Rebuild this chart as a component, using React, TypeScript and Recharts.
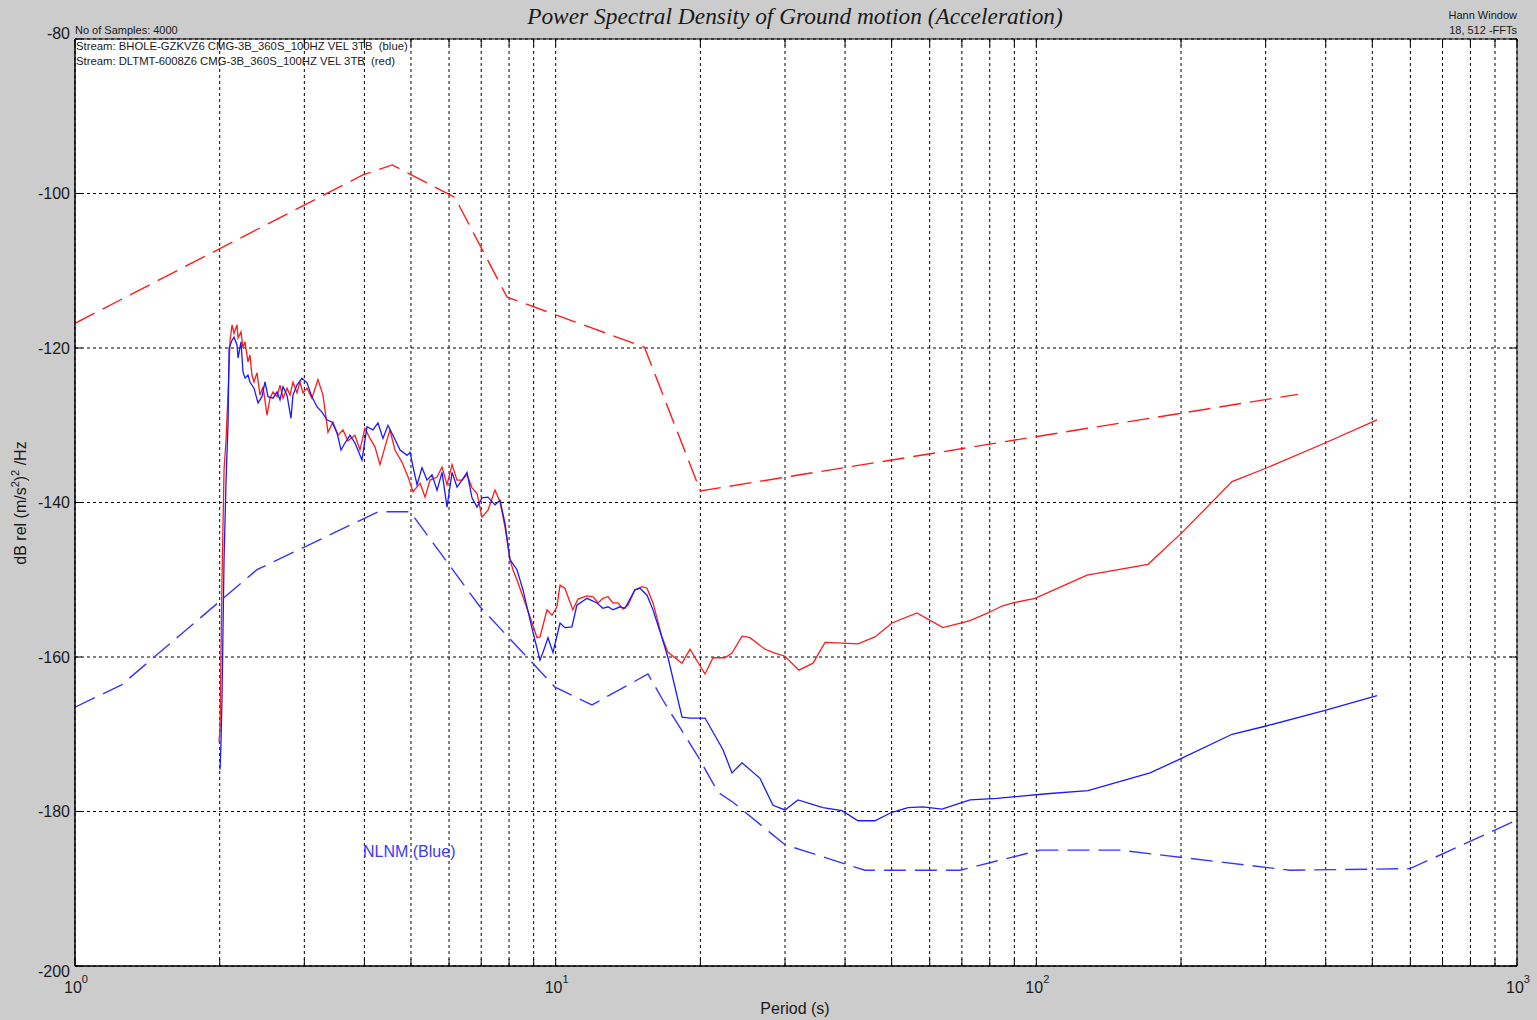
import React from 'react';
import { LineChart, Line, XAxis, YAxis, CartesianGrid, ReferenceArea } from 'recharts';

// ---- data (period in s, PSD in dB) ----
const nhnm: [number, number][] = [
  [1, -116.8], [3.97, -97.6], [4.57, -96.3], [6.17, -100.5], [7.92, -113.4],
  [15.3, -119.9], [20.0, -138.5], [350, -126.0],
];

const nlnm: [number, number][] = [
  [1, -166.5], [1.25, -163.6], [2.39, -148.7], [4.27, -141.2], [4.98, -141.2],
  [6.96, -153.5], [9.97, -163.9], [11.9, -166.2], [15.56, -162.2], [16.72, -165.6],
  [19.78, -172.9], [21.76, -177.5], [23.38, -178.8], [30.0, -184.3], [44, -187.6],
  [69.4, -187.6], [101.8, -185.0], [149, -185.0], [337, -187.6], [599, -187.4], [1000, -181.1],
];

const redStream: [number, number][] = [
  [1.993, -171.0], [2.003, -169.4], [2.022, -150.0], [2.042, -135.8], [2.062, -131.9],
  [2.082, -125.7], [2.102, -119.0], [2.122, -117.0], [2.142, -118.1], [2.173, -117.0],
  [2.184, -118.7], [2.215, -117.9], [2.236, -120.0], [2.258, -119.2], [2.29, -121.8],
  [2.312, -120.9], [2.334, -123.5], [2.357, -124.4], [2.391, -123.2], [2.426, -126.1],
  [2.461, -125.0], [2.509, -128.7], [2.545, -126.5], [2.582, -125.7], [2.632, -126.3],
  [2.67, -124.8], [2.709, -126.5], [2.761, -125.2], [2.801, -126.1], [2.841, -124.4],
  [2.896, -125.8], [2.938, -124.4], [2.98, -125.8], [3.038, -125.2], [3.111, -126.5],
  [3.202, -124.1], [3.28, -126.1], [3.36, -130.9], [3.441, -129.6], [3.525, -131.3],
  [3.61, -130.6], [3.698, -132.0], [3.824, -131.3], [3.916, -133.2], [4.011, -130.4],
  [4.109, -131.7], [4.208, -132.8], [4.31, -135.1], [4.414, -132.8], [4.521, -130.6],
  [4.63, -133.2], [4.791, -134.8], [4.931, -136.7], [5.05, -138.6], [5.222, -137.5],
  [5.349, -139.3], [5.478, -137.1], [5.665, -136.7], [5.802, -135.4], [5.943, -137.7],
  [6.087, -135.1], [6.234, -137.1], [6.385, -137.1], [6.54, -136.4], [6.698, -138.1],
  [6.86, -138.8], [7.026, -141.9], [7.231, -141.0], [7.478, -138.4], [7.659, -139.9],
  [7.845, -143.2], [8.035, -147.4], [8.151, -148.7], [8.349, -150.4], [8.843, -154.8],
  [9.145, -157.5], [9.277, -157.4], [9.593, -153.9], [9.825, -154.6], [10.06, -153.5],
  [10.21, -150.7], [10.45, -151.1], [10.86, -153.9], [11.13, -152.5], [11.62, -152.1],
  [11.96, -152.2], [12.25, -153.0], [12.54, -152.4], [12.85, -152.2], [13.16, -153.0],
  [13.48, -153.0], [13.81, -153.8], [14.14, -153.3], [14.62, -151.3], [15.12, -150.9],
  [15.49, -151.1], [15.94, -153.0], [16.64, -157.4], [17.13, -159.4], [18.32, -160.8],
  [19.03, -159.0], [20.45, -162.2], [21.25, -160.1], [22.5, -160.1], [23.27, -159.5],
  [24.42, -157.3], [25.37, -157.5], [27.26, -159.0], [28.59, -159.5], [30.0, -159.9],
  [32.07, -161.7], [34.31, -160.8], [36.34, -158.1], [39.6, -158.2], [42.56, -158.3],
  [46.15, -157.4], [50.08, -155.6], [56.45, -154.3], [63.93, -156.2], [72.78, -155.3],
  [79.32, -154.3], [84.81, -153.4], [89.4, -153.0], [99.35, -152.4], [127.5, -149.4],
  [170.8, -148.0], [200.9, -143.9], [255.4, -137.3], [302, -135.5], [398.6, -132.3],
  [511.5, -129.3],
];

const blueStream: [number, number][] = [
  [2.003, -174.6], [2.012, -171.4], [2.022, -165.6], [2.042, -147.4], [2.062, -137.1],
  [2.082, -129.6], [2.092, -120.0], [2.122, -119.0], [2.142, -118.6], [2.173, -119.6],
  [2.184, -121.3], [2.215, -119.2], [2.236, -123.1], [2.258, -123.9], [2.29, -123.5],
  [2.312, -124.4], [2.357, -125.2], [2.403, -127.1], [2.449, -126.3], [2.485, -124.4],
  [2.521, -126.3], [2.582, -126.5], [2.632, -125.7], [2.67, -126.7], [2.709, -125.0],
  [2.761, -126.1], [2.814, -129.1], [2.841, -126.1], [2.896, -124.8], [2.966, -123.9],
  [3.038, -124.5], [3.111, -126.3], [3.187, -127.6], [3.264, -128.3], [3.343, -129.3],
  [3.425, -129.6], [3.509, -131.0], [3.576, -133.2], [3.645, -132.3], [3.733, -131.3],
  [3.824, -132.3], [3.954, -134.5], [4.05, -130.2], [4.168, -130.6], [4.269, -129.7],
  [4.372, -131.7], [4.478, -130.0], [4.586, -131.3], [4.746, -133.2], [4.907, -133.9],
  [4.978, -133.5], [5.05, -135.4], [5.147, -137.7], [5.272, -135.5], [5.4, -137.1],
  [5.531, -136.4], [5.665, -138.4], [5.802, -136.1], [5.943, -140.6], [6.087, -136.1],
  [6.234, -138.0], [6.385, -137.1], [6.54, -136.1], [6.698, -139.4], [6.86, -140.6],
  [7.026, -139.4], [7.231, -139.3], [7.478, -140.3], [7.659, -139.7], [7.845, -142.7],
  [8.035, -147.4], [8.308, -148.7], [8.551, -151.3], [8.971, -156.8], [9.277, -160.4],
  [9.411, -159.4], [9.639, -157.5], [9.872, -159.4], [10.21, -155.6], [10.45, -156.2],
  [10.81, -156.1], [11.07, -153.3], [11.62, -152.4], [12.19, -153.0], [12.54, -153.7],
  [12.85, -153.5], [13.16, -153.9], [13.61, -153.5], [13.94, -153.7], [14.62, -151.3],
  [14.98, -151.1], [15.49, -152.0], [15.94, -153.9], [16.64, -157.5], [17.13, -160.1],
  [18.32, -167.8], [19.03, -167.9], [20.45, -167.9], [22.29, -172.0], [23.27, -175.0],
  [24.42, -173.7], [26.61, -175.7], [28.32, -179.2], [30.0, -179.8], [31.92, -178.5],
  [35.99, -179.5], [39.41, -179.9], [42.56, -181.2], [46.15, -181.2], [50.08, -180.1],
  [54.08, -179.5], [58.09, -179.4], [63.63, -179.7], [72.78, -178.5], [82.81, -178.3],
  [105.2, -177.7], [128.1, -177.3], [172.4, -175.0], [200.9, -173.1], [255.4, -170.0],
  [302, -168.9], [398.6, -166.9], [511.5, -165.0],
];

const xTicks = [
  1, 2, 3, 4, 5, 6, 7, 8, 9,
  10, 20, 30, 40, 50, 60, 70, 80, 90,
  100, 200, 300, 400, 500, 600, 700, 800, 900, 1000,
];
const xDecadeLabels: Record<number, string> = { 1: '0', 10: '1', 100: '2', 1000: '3' };
const yTicks = [-200, -180, -160, -140, -120, -100, -80];

const toRows = (pairs: [number, number][]) => pairs.map(([p, db]) => ({ p, db }));

const W = 1537;
const H = 1020;
const M = { top: 39, right: 20, left: 0, bottom: 0 };
const Y_AXIS_W = 75;
const X_AXIS_H = 54;
const PLOT_W = W - M.right - Y_AXIS_W;
const PLOT_H = H - M.top - X_AXIS_H;
const FONT = '"Liberation Sans", Arial, sans-serif';
const TXT = '#1a1a1a';

const XTick = (props: any) => {
  const { x, y, payload } = props;
  const v = payload.value;
  const label = xDecadeLabels[v];
  const tl = 7;
  return (
    <g>
      <line x1={x} x2={x} y1={y} y2={y - tl} stroke="#000" strokeWidth={1} />
      <line x1={x} x2={x} y1={y - PLOT_H} y2={y - PLOT_H + tl} stroke="#000" strokeWidth={1} />
      {label !== undefined && (
        <text x={x + 1} y={y + 27} textAnchor="middle" fontFamily={FONT} fontSize={16} fill={TXT}>
          10<tspan dy={-10} fontSize={11}>{label}</tspan>
        </text>
      )}
    </g>
  );
};

const YTick = (props: any) => {
  const { x, y, payload } = props;
  const v = payload.value;
  const tl = 7;
  const shift = v === -80 ? -6 : v === -200 ? 5 : 0;
  return (
    <g>
      <line x1={x} x2={x + tl} y1={y} y2={y} stroke="#000" strokeWidth={1} />
      <line x1={x + PLOT_W} x2={x + PLOT_W - tl} y1={y} y2={y} stroke="#000" strokeWidth={1} />
      <text x={x - 5} y={y + shift} dy="0.36em" textAnchor="end" fontFamily={FONT} fontSize={16} fill={TXT}>
        {v}
      </text>
    </g>
  );
};

export default function App() {
  return (
    <div style={{ position: 'absolute', left: 0, top: 0, width: W, height: H, background: '#cccccc' }}>
      <LineChart width={W} height={H} margin={M}>
        <CartesianGrid stroke="#000" strokeDasharray="3 3" fill="#ffffff" strokeWidth={1} />
        <XAxis
          type="number"
          dataKey="p"
          scale="log"
          domain={[1, 1000]}
          ticks={xTicks}
          interval={0}
          height={X_AXIS_H}
          tickSize={0}
          tickMargin={0}
          tickLine={false}
          axisLine={{ stroke: '#000' }}
          tick={<XTick />}
          allowDataOverflow
        />
        <YAxis
          type="number"
          domain={[-200, -80]}
          ticks={yTicks}
          interval={0}
          width={Y_AXIS_W}
          tickSize={0}
          tickMargin={0}
          tickLine={false}
          axisLine={{ stroke: '#000' }}
          tick={<YTick />}
          allowDataOverflow
        />
        <ReferenceArea x1={1} x2={1000} y1={-200} y2={-80} fill="none" stroke="#000" strokeWidth={1} fillOpacity={0} />
        <Line data={toRows(nhnm)} dataKey="db" type="linear" stroke="#ff1a1a" strokeWidth={1.4}
          strokeDasharray="22 9" dot={false} isAnimationActive={false} />
        <Line data={toRows(nlnm)} dataKey="db" type="linear" stroke="#3535ff" strokeWidth={1.4}
          strokeDasharray="22 9" dot={false} isAnimationActive={false} />
        <Line data={toRows(redStream)} dataKey="db" type="linear" stroke="#ff1a1a" strokeWidth={1.3}
          dot={false} isAnimationActive={false} />
        <Line data={toRows(blueStream)} dataKey="db" type="linear" stroke="#1a1aff" strokeWidth={1.3}
          dot={false} isAnimationActive={false} />
      </LineChart>
      <svg width={W} height={H} style={{ position: 'absolute', left: 0, top: 0, pointerEvents: 'none' }}>
        <text x={795} y={24} textAnchor="middle" fontFamily='"Liberation Serif", "Times New Roman", serif'
          fontStyle="italic" fontSize={23.4} fill={TXT}>
          Power Spectral Density of Ground motion (Acceleration)
        </text>
        <text x={75} y={34} fontFamily={FONT} fontSize={11} fill={TXT}>No of Samples: 4000</text>
        <text x={76} y={50} fontFamily={FONT} fontSize={11.3} fill={TXT} style={{ whiteSpace: 'pre' }}>
          {'Stream: BHOLE-GZKVZ6 CMG-3B_360S_100HZ VEL 3TB  (blue)'}
        </text>
        <text x={76} y={65} fontFamily={FONT} fontSize={11.3} fill={TXT} style={{ whiteSpace: 'pre' }}>
          {'Stream: DLTMT-6008Z6 CMG-3B_360S_100HZ VEL 3TB  (red)'}
        </text>
        <text x={1517} y={19} textAnchor="end" fontFamily={FONT} fontSize={11} fill={TXT}>Hann Window</text>
        <text x={1517} y={34} textAnchor="end" fontFamily={FONT} fontSize={11} fill={TXT}>18, 512 -FFTs</text>
        <text x={363} y={857} fontFamily={FONT} fontSize={16} fill="#3a3aff">NLNM (Blue)</text>
        <text x={795} y={1014} textAnchor="middle" fontFamily={FONT} fontSize={16} fill={TXT}>Period (s)</text>
        <text transform="translate(26,503) rotate(-90)" textAnchor="middle" fontFamily={FONT} fontSize={16} fill={TXT}>
          dB rel (m/s<tspan dy={-7} fontSize={11}>2</tspan><tspan dy={7}>)</tspan><tspan dy={-7} fontSize={11}>2</tspan><tspan dy={7}> /Hz</tspan>
        </text>
      </svg>
    </div>
  );
}
